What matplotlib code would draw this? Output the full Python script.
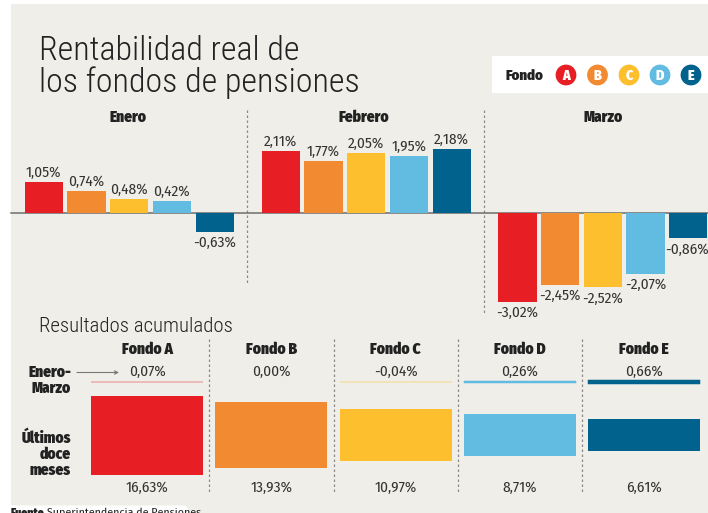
import matplotlib
matplotlib.use("Agg")
import matplotlib.pyplot as plt
from matplotlib.patches import Rectangle, Circle, FancyBboxPatch
import numpy as np

# ---------------- data ----------------
months = ["Enero", "Febrero", "Marzo"]
funds = ["A", "B", "C", "D", "E"]
enero = [1.05, 0.74, 0.48, 0.42, -0.63]
febrero = [2.11, 1.77, 2.05, 1.95, 2.18]
marzo = [-3.02, -2.45, -2.52, -2.07, -0.86]
monthly = [enero, febrero, marzo]
acum_ene_mar = [0.07, 0.00, -0.04, 0.26, 0.66]
acum_12m = [16.63, 13.93, 10.97, 8.71, 6.61]
fund_labels = ["Fondo A", "Fondo B", "Fondo C", "Fondo D", "Fondo E"]

colors = ["#e81e25", "#f28a31", "#fdbf2d", "#62bbe1", "#00628d"]
BG = "#efeee8"
TXT = "#222222"
NUMC = "#333333"

def fmt(v):
    return f"{v:.2f}".replace(".", ",") + "%"

W, H = 708, 513
fig = plt.figure(figsize=(W / 100, H / 100), dpi=100)
fig.patch.set_facecolor("white")

def px_axes(x0, y0, x1, y1):
    """axes placed by pixel box (top-left origin)"""
    return fig.add_axes([x0 / W, 1 - y1 / H, (x1 - x0) / W, (y1 - y0) / H])

# background overlay axes in pixel coordinates
ax0 = fig.add_axes([0, 0, 1, 1])
ax0.set_xlim(0, W)
ax0.set_ylim(H, 0)
ax0.axis("off")
ax0.add_patch(Rectangle((11, 4), W - 11, H - 4, facecolor=BG, edgecolor="none"))

TITLE_F = "Roboto Condensed"
BOLD_F = "Fira Sans Condensed"
NUM_F = "Fira Sans Condensed"
BW = "black"
NS = 11

ax0.text(39, 60, "Rentabilidad real de", fontsize=24.5, family=TITLE_F, weight="light",
         color=TXT, va="baseline", ha="left")
ax0.text(39, 92, "los fondos de pensiones", fontsize=24.5, family=TITLE_F, weight="light",
         color=TXT, va="baseline", ha="left")

# legend box
ax0.add_patch(Rectangle((492, 56), W - 492, 37, facecolor="white", edgecolor="none"))
ax0.text(506, 75.5, "Fondo", fontsize=10.5, family=BOLD_F, weight=BW, color=TXT,
         va="center", ha="left")
leg_x = [566, 597.5, 629, 660, 691]
for cx, f, c in zip(leg_x, funds, colors):
    ax0.add_patch(Circle((cx, 75), 10.4, facecolor=c, edgecolor="none"))
    ax0.text(cx, 75.5, f, fontsize=10, family=BOLD_F, weight=BW, color="white",
             va="center", ha="center")

# ---------------- monthly bars ----------------
TOP_Y0, TOP_Y1, BASE_Y, SCALE = 100, 330, 213, 29.4
axt = px_axes(0, TOP_Y0, W, TOP_Y1)
axt.set_xlim(0, W)
axt.set_ylim(-(TOP_Y1 - BASE_Y) / SCALE, (BASE_Y - TOP_Y0) / SCALE)
axt.axis("off")
axt.patch.set_alpha(0)

group_start = [24.7, 261.7, 498.3]
step, bw = 42.7, 38.2
month_cx = [128, 364, 603]
for g, vals in enumerate(monthly):
    xs = [group_start[g] + i * step + bw / 2 for i in range(len(vals))]
    axt.bar(xs, vals, width=bw, color=colors, linewidth=0, zorder=2)
    for x, v in zip(xs, vals):
        if v >= 0:
            axt.annotate(fmt(v), (x, v), xytext=(0, 1.5), textcoords="offset points",
                         ha="center", va="bottom", fontsize=NS, family=NUM_F,
                         color=NUMC, annotation_clip=False)
        else:
            dx = -1.0 if x > W - 30 else 0
            axt.annotate(fmt(v), (x, v), xytext=(dx, -3),
                         textcoords="offset points", ha="center", va="top",
                         fontsize=NS, family=NUM_F, color=NUMC,
                         annotation_clip=False)
    ax0.text(month_cx[g], 117, months[g], fontsize=11, family=BOLD_F, weight=BW,
             color=TXT, ha="center", va="center")
axt.axhline(0, xmin=11 / W, xmax=1, color="#6d6d6d", lw=1.1, zorder=1)

for x, y1 in [(247, 285), (484, 313)]:
    ax0.plot([x, x], [110, y1], color="#8a8a8a", lw=0.9, ls=(0, (2, 2)))

# ---------------- accumulated ----------------
ax0.text(39, 326, "Resultados acumulados", fontsize=15, family=TITLE_F, weight="light",
         color=TXT, ha="left", va="center")

BOT_Y0, BOT_Y1, CEN_Y, BSCALE, LINE_Y = 330, 505, 435.1, 4.76, 382
axb = px_axes(0, BOT_Y0, W, BOT_Y1)
axb.set_xlim(0, W)
axb.set_ylim(-(BOT_Y1 - CEN_Y) / BSCALE, (CEN_Y - BOT_Y0) / BSCALE)
axb.axis("off")
axb.patch.set_alpha(0)

col_left = [91, 215.3, 339.6, 463.9, 588.2]
cw = 112
col_cx = [l + cw / 2 for l in col_left]
v12 = np.array(acum_12m)
axb.bar(col_cx, v12, bottom=-v12 / 2, width=cw, color=colors, linewidth=0)
va = np.abs(np.array(acum_ene_mar))
line_off = (CEN_Y - LINE_Y) / BSCALE
edge = [c if v != 0 else "none" for c, v in zip(colors, acum_ene_mar)]
axb.bar(col_cx, va, bottom=line_off - va / 2, width=cw, color=colors,
        edgecolor=edge, linewidth=0.35)

for cx, lab, a, b in zip(col_cx, fund_labels, acum_ene_mar, acum_12m):
    ax0.text(cx, 349, lab, fontsize=11, family=BOLD_F, weight=BW, color=TXT,
             ha="center", va="center")
    ax0.text(cx, 372, fmt(a), fontsize=NS, family=NUM_F, color=NUMC,
             ha="center", va="center")
    ax0.text(cx, 487.5, fmt(b), fontsize=NS, family=NUM_F, color=NUMC,
             ha="center", va="center")

for x in [209.3, 333.5, 457.5, 581.5]:
    ax0.plot([x, x], [339, 493], color="#8a8a8a", lw=0.9, ls=(0, (2, 2)))

for y, s in [(372, "Enero-"), (388, "Marzo")]:
    ax0.text(71, y, s, fontsize=11, family=BOLD_F, weight=BW, color=TXT,
             ha="right", va="center")
for y, s in [(438, "Últimos"), (454.5, "doce"), (470.5, "meses")]:
    ax0.text(71, y, s, fontsize=11, family=BOLD_F, weight=BW, color=TXT,
             ha="right", va="center")
ax0.annotate("", xy=(119, 372.5), xytext=(77, 372.5),
             arrowprops=dict(arrowstyle="->", color="#777777", lw=0.8,
                             mutation_scale=6, shrinkA=0, shrinkB=0))

# footer
ax0.add_patch(FancyBboxPatch((-10, 505.5), 198, 20, boxstyle="round,pad=0,rounding_size=5",
                             facecolor="white", edgecolor="none"))
ax0.text(11, 507.5, "Fuente", fontsize=8.5, family=BOLD_F, weight=BW, color=TXT,
         ha="left", va="top")
ax0.text(47, 507.5, "Superintendencia de Pensiones", fontsize=8.5, family=NUM_F,
         color=TXT, ha="left", va="top")

fig.savefig("out.png", dpi=100, facecolor=fig.get_facecolor())
